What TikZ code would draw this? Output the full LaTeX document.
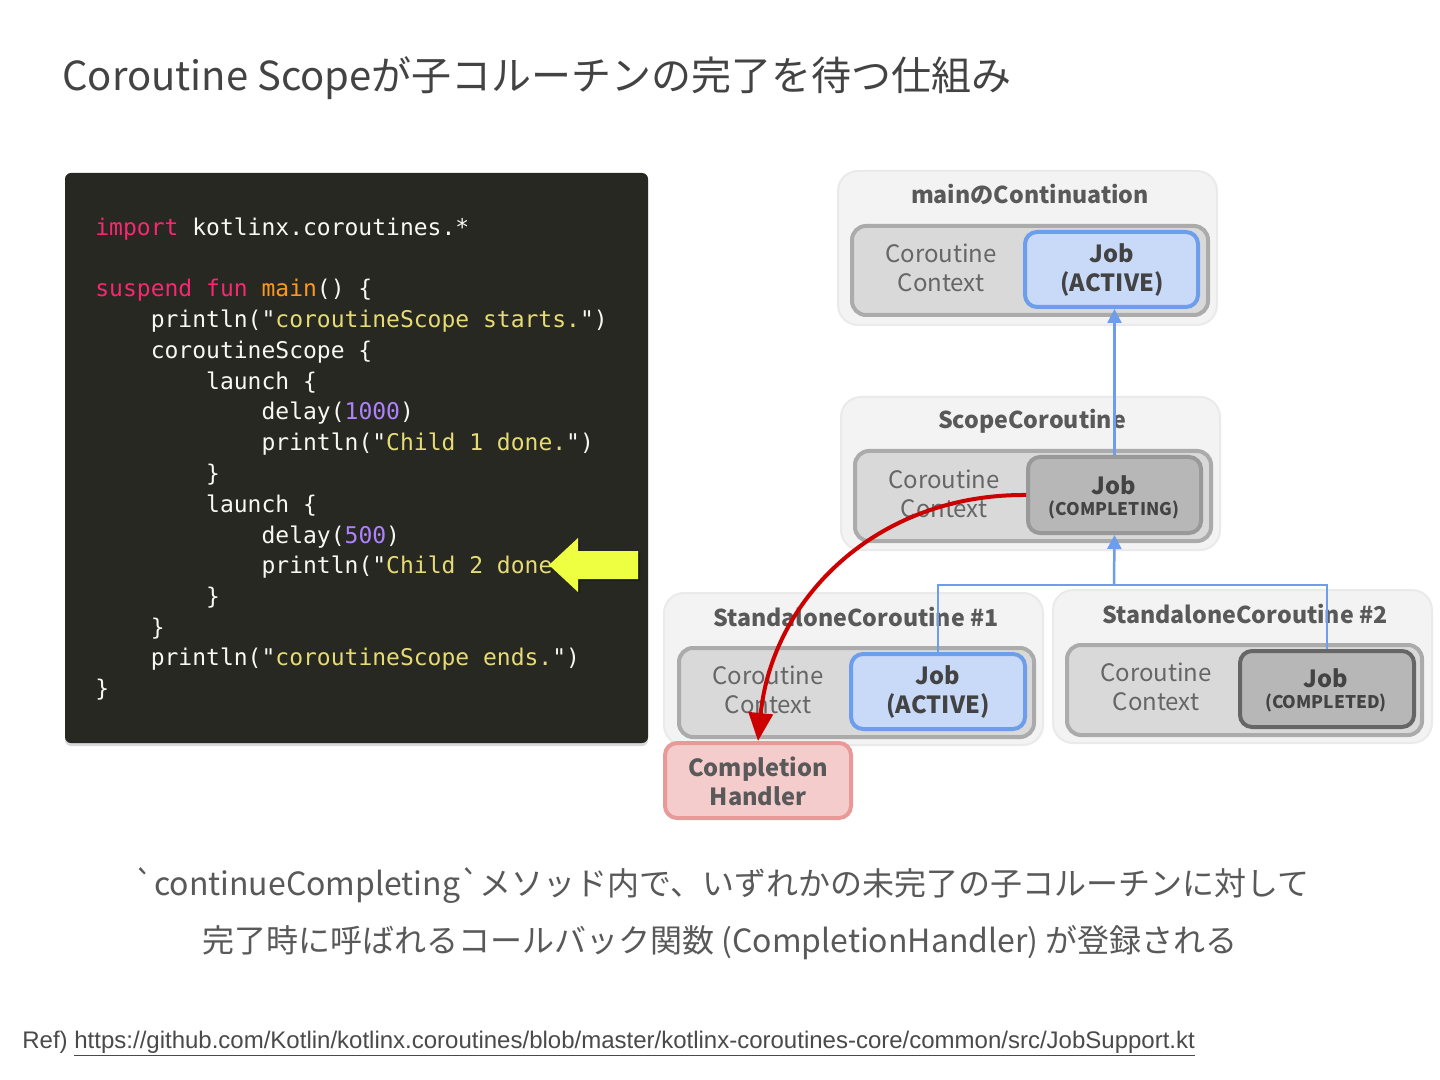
\documentclass[tikz,border=0pt]{standalone}
\usepackage{fontspec}
\usetikzlibrary{arrows.meta,fit,shadows}
\newfontfamily\jp{Noto Sans CJK JP}
\newfontfamily\codefont{DejaVu Sans Mono}
\newfontfamily\reffont{Liberation Sans}
\definecolor{codebg}{HTML}{272822}
\definecolor{kw}{HTML}{F92672}
\definecolor{fn}{HTML}{FD971F}
\definecolor{str}{HTML}{E6DB74}
\definecolor{num}{HTML}{AE81FF}
\definecolor{fg}{HTML}{F8F8F2}
\definecolor{outerfill}{HTML}{F3F3F3}
\definecolor{outerline}{HTML}{EAEAEA}
\definecolor{ctxfill}{HTML}{D9D9D9}
\definecolor{ctxline}{HTML}{ABABAB}
\definecolor{bluefill}{HTML}{C9DAF8}
\definecolor{blueline}{HTML}{6D9EEB}
\definecolor{grayjob}{HTML}{B7B7B7}
\definecolor{grayjobline}{HTML}{999999}
\definecolor{donejobline}{HTML}{666666}
\definecolor{redfill}{HTML}{F4CCCC}
\definecolor{redline}{HTML}{EA9999}
\definecolor{redarrow}{HTML}{CC0000}
\definecolor{titlegray}{HTML}{434343}
\definecolor{boxtitle}{HTML}{595959}
\definecolor{ctxgray}{HTML}{666666}
\definecolor{jobgray}{HTML}{434343}
\definecolor{bodygray}{HTML}{595959}
\definecolor{refgray}{HTML}{4A4A4A}
\definecolor{hiyellow}{HTML}{EEFF41}
\tikzset{
  outerbox/.style={draw=outerline, line width=1pt, fill=outerfill, rounded corners=10pt, inner sep=0pt},
  ctxbox/.style={draw=ctxline, line width=2pt, fill=ctxfill, rounded corners=7pt, inner sep=0pt},
  jobactive/.style={draw=blueline, line width=2pt, fill=bluefill, rounded corners=6pt, inner sep=0pt},
  jobcompleting/.style={draw=grayjobline, line width=2pt, fill=grayjob, rounded corners=6pt, inner sep=0pt},
  jobcompleted/.style={draw=donejobline, line width=2pt, fill=grayjob, rounded corners=6pt, inner sep=0pt},
  handlerbox/.style={draw=redline, line width=2pt, fill=redfill, rounded corners=6pt, inner sep=0pt},
  boxtitletext/.style={font=\jp\bfseries\fontsize{11.6}{14}\selectfont, text=boxtitle, inner sep=0pt},
  ctxtext/.style={font=\jp\fontsize{12}{14.5}\selectfont, text=ctxgray, align=center, inner sep=0pt},
  jobtext/.style={font=\jp\bfseries\fontsize{11.8}{14.5}\selectfont, text=jobgray, align=center, inner sep=0pt},
  jobsmall/.style={font=\jp\bfseries\fontsize{8.7}{11}\selectfont, text=jobgray, inner sep=0pt},
  codeline/.style={font=\codefont\fontsize{11.5}{13}\selectfont, text=fg, inner sep=0pt, anchor=base west},
  blueconn/.style={draw=blueline, line width=1.25pt},
  bluetip/.style={-{Triangle[length=7pt,width=7pt]}},
  redconn/.style={draw=redarrow, line width=2pt, -{Triangle[length=14pt,width=12pt]}},
}
\begin{document}
\begin{tikzpicture}[x=0.5pt,y=-0.5pt]
\useasboundingbox[fill=white] (0,0) rectangle (1440,1080);

% title
\node[anchor=base west, inner sep=0pt, font=\jp\fontsize{20}{24}\selectfont, text=titlegray] (title) at (62,91) {Coroutine Scopeが子コルーチンの完了を待つ仕組み};

% code block
\node[fit={(65,173)(648,743)}, fill=codebg, rounded corners=3pt, inner sep=0pt,
      drop shadow={shadow xshift=0pt, shadow yshift=-1.5pt, opacity=0.3}] (codebox) {};
\node[codeline] (c1) at (95,236) {\textcolor{kw}{import} kotlinx.coroutines.*};
\node[codeline] (c3) at (95,296.5) {\textcolor{kw}{suspend} \textcolor{kw}{fun} \textcolor{fn}{main}() \{};
\node[codeline] (c4) at (150.4,327.5) {println("\textcolor{str}{coroutineScope starts.}")};
\node[codeline] (c5) at (150.4,358.5) {coroutineScope \{};
\node[codeline] (c6) at (205.8,389.3) {launch \{};
\node[codeline] (c7) at (261.2,420) {delay(\textcolor{num}{1000})};
\node[codeline] (c8) at (261.2,450.8) {println("\textcolor{str}{Child 1 done.}")};
\node[codeline] (c9) at (205.8,481.5) {\}};
\node[codeline] (c10) at (205.8,512.2) {launch \{};
\node[codeline] (c11) at (261.2,543) {delay(\textcolor{num}{500})};
\node[codeline] (c12) at (261.2,573.7) {println("\textcolor{str}{Child 2 done.}")};
\node[codeline] (c13) at (205.8,604.4) {\}};
\node[codeline] (c14) at (150.4,635.1) {\}};
\node[codeline] (c15) at (150.4,665.8) {println("\textcolor{str}{coroutineScope ends.}")};
\node[codeline] (c16) at (95,696.5) {\}};

% yellow highlight arrow
\fill[black, opacity=0.25] (551,567) -- (580,540) -- (580,553) -- (640,553) -- (640,581) -- (580,581) -- (580,594) -- cycle;
\fill[hiyellow] (549,565) -- (578,538) -- (578,551) -- (638,551) -- (638,579) -- (578,579) -- (578,592) -- cycle;

% main continuation
\node[outerbox, fit={(838,171)(1217,325)}] (mainout) {};
\node[boxtitletext] (maintitle) at (1030,195) {mainのContinuation};
\node[ctxbox, fit={(852,226)(1208,315)}] (mainctx) {};
\node[ctxtext] (mainctxt) at (941,268) {Coroutine\\Context};
\node[jobactive, fit={(1025,232)(1198,307)}] (mainjob) {};
\node[jobtext] (mainjobt) at (1112,270) {Job\\(ACTIVE)};

% scope coroutine
\node[outerbox, fit={(841,397)(1220,550)}] (scout) {};
\node[boxtitletext] (sctitle) at (1032,421) {ScopeCoroutine};
\node[ctxbox, fit={(855,451)(1211,541)}] (scctx) {};
\node[ctxtext] (scctxt) at (944,494) {Coroutine\\Context};
\node[jobcompleting, fit={(1028,457)(1201,533)}] (scjob) {};
\node[jobtext] (scjobt) at (1114,485) {Job};
\node[jobsmall] (scjobs) at (1114,510) {(COMPLETING)};

% standalone #1
\node[outerbox, fit={(664,593)(1043,745)}] (s1out) {};
\node[boxtitletext] (s1title) at (856,617) {StandaloneCoroutine \#1};
\node[ctxbox, fit={(679,648)(1034,737)}] (s1ctx) {};
\node[ctxtext] (s1ctxt) at (768,690) {Coroutine\\Context};
\node[jobactive, fit={(851,654)(1025,729)}] (s1job) {};
\node[jobtext] (s1jobt) at (938,692) {Job\\(ACTIVE)};

% standalone #2
\node[outerbox, fit={(1053,590)(1432,743)}] (s2out) {};
\node[boxtitletext] (s2title) at (1245,614) {StandaloneCoroutine \#2};
\node[ctxbox, fit={(1067,645)(1422,735)}] (s2ctx) {};
\node[ctxtext] (s2ctxt) at (1156,687) {Coroutine\\Context};
\node[jobcompleted, fit={(1240,651)(1414,727)}] (s2job) {};
\node[jobtext] (s2jobt) at (1326,678) {Job};
\node[jobsmall] (s2jobs) at (1326,703) {(COMPLETED)};

% completion handler
\node[handlerbox, fit={(665,743)(851,818)}] (handler) {};
\node[jobtext, font=\jp\bfseries\fontsize{11.8}{14.5}\selectfont, text=boxtitle] (handlert) at (758,781) {Completion\\Handler};

% connectors
\coordinate (junc) at (1114,585);
\draw[blueconn] (s1job.north) |- (junc);
\draw[blueconn] (s2job.north) |- (junc);
\draw[blueconn, bluetip] (junc) -- (scjob.south);
\draw[blueconn, bluetip] (scjob.north) -- (scjob.north |- mainjob.south);
\draw[redconn] (scjob.west) .. controls (875,494) and (772,600) .. (handler.north);

% bottom text
\node[anchor=base, inner sep=0pt, font=\jp\fontsize{16}{20}\selectfont, text=bodygray] (body1) at (722,895) {`continueCompleting`メソッド内で、いずれかの未完了の子コルーチンに対して};
\node[anchor=base, inner sep=0pt, font=\jp\fontsize{16}{20}\selectfont, text=bodygray] (body2) at (720,952) {完了時に呼ばれるコールバック関数 (CompletionHandler) が登録される};

% reference
\node[anchor=base west, inner sep=0pt, font=\reffont\fontsize{12}{14}\selectfont, text=refgray] (ref) at (22,1048) {Ref) \underline{https://github.com/Kotlin/kotlinx.coroutines/blob/master/kotlinx-coroutines-core/common/src/JobSupport.kt}};
\end{tikzpicture}
\end{document}
